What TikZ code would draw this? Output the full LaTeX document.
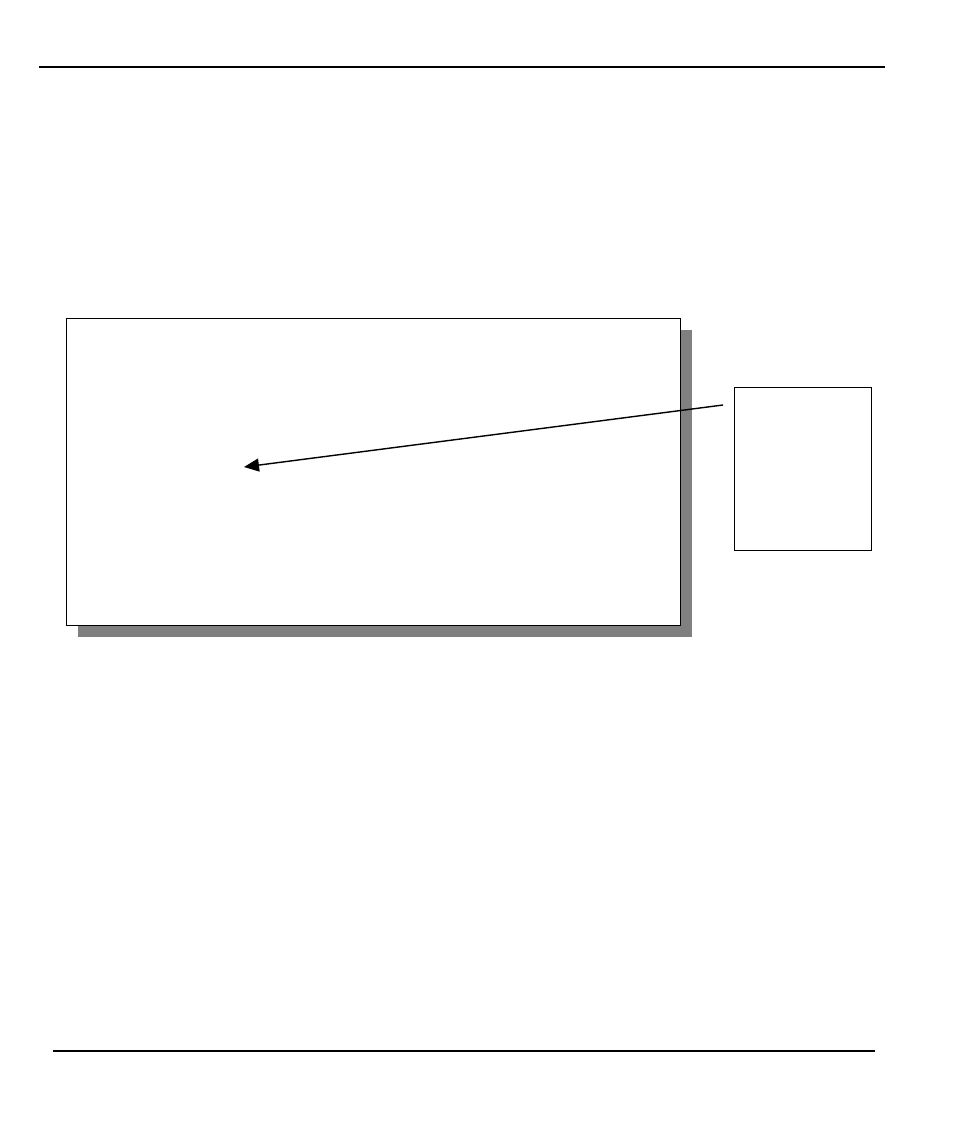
\documentclass[tikz,border=0pt]{standalone}
\usetikzlibrary{arrows.meta}
\begin{document}
\begin{tikzpicture}[x=1pt,y=-1pt,
  rule/.style={line width=1.2pt},
  box/.style={draw=black,fill=white,line width=1pt,inner sep=0pt,anchor=north west},
  shadowbox/.style={fill=black!50,draw=none,inner sep=0pt,anchor=north west},
  pointer/.style={line width=1.4pt,-{Triangle[length=15pt,width=13pt]}}]
\useasboundingbox (0,0) rectangle (954,1132);
\fill[white] (0,0) rectangle (954,1132);
\coordinate (tl) at (39,67);
\coordinate (tr) at (885,67);
\coordinate (bl) at (53,1051);
\coordinate (br) at (875,1051);
\draw[rule] (tl) -- (tr);
\draw[rule] (bl) -- (br);
\node[shadowbox,minimum width=614pt,minimum height=307pt] (shadow) at (78,330) {};
\node[box,minimum width=614pt,minimum height=307pt] (main) at (66,318) {};
\node[box,minimum width=137pt,minimum height=163pt] (side) at (734,387) {};
\coordinate (start) at (723,405);
\coordinate (target) at (244,467);
\draw[pointer] (start) -- (target);
\end{tikzpicture}
\end{document}
